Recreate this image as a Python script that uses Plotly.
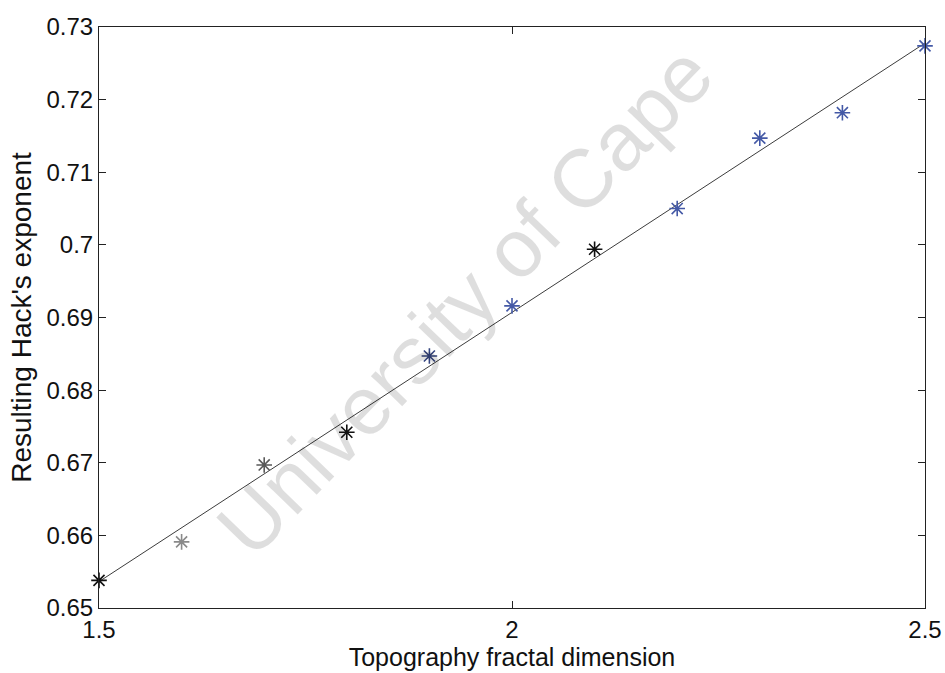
import numpy as np
import plotly.graph_objects as go

# Topography fractal dimension vs resulting Hack's exponent
fractal_dim = [1.5, 1.6, 1.7, 1.8, 1.9, 2.0, 2.1, 2.2, 2.3, 2.4, 2.5]
hack_exponent = [0.6538, 0.6591, 0.6697, 0.6742, 0.6847, 0.6916,
                 0.6994, 0.7050, 0.7147, 0.7182, 0.7274]

x_ticks = [1.5, 2.0, 2.5]
x_tick_labels = ["1.5", "2", "2.5"]
y_ticks = [0.65, 0.66, 0.67, 0.68, 0.69, 0.70, 0.71, 0.72, 0.73]
y_tick_labels = ["0.65", "0.66", "0.67", "0.68", "0.69", "0.7", "0.71", "0.72", "0.73"]

# marker colour for each run
marker_colors = ["#111111", "#8a8a8a", "#5a5a5a", "#111111", "#34447e", "#4459a6",
                 "#111111", "#4459a6", "#4459a6", "#4459a6", "#4459a6"]

# least-squares linear fit through the runs
slope, intercept = np.polyfit(fractal_dim, hack_exponent, 1)
fit_x = [fractal_dim[0], fractal_dim[-1]]
fit_y = [intercept + slope * v for v in fit_x]

FONT = "Liberation Sans, Arial, sans-serif"

fig = go.Figure()
fig.add_trace(go.Scatter(
    x=fit_x, y=fit_y, mode="lines",
    line=dict(color="#3c3c3c", width=1),
    hoverinfo="skip", showlegend=False,
))
fig.add_trace(go.Scatter(
    x=fractal_dim, y=hack_exponent, mode="markers", cliponaxis=False,
    marker=dict(symbol="asterisk-open", size=13, color=marker_colors,
                line=dict(width=1.6)),
    showlegend=False,
))

axis_common = dict(
    showline=True, linecolor="#222222", linewidth=1, mirror="ticks",
    ticks="inside", ticklen=7, tickwidth=1, tickcolor="#222222",
    showgrid=False, zeroline=False, automargin=False,
    tickfont=dict(family=FONT, size=24, color="#111111"),
)

fig.update_layout(
    width=945, height=673,
    margin=dict(l=99, r=20, t=27, b=65),
    paper_bgcolor="white", plot_bgcolor="white",
    xaxis=dict(
        range=[1.5, 2.5], tickvals=x_ticks, ticktext=x_tick_labels,
        title=dict(text="Topography fractal dimension", standoff=2,
                   font=dict(family=FONT, size=25, color="#111111")),
        **axis_common,
    ),
    yaxis=dict(
        range=[0.65, 0.73], tickvals=y_ticks, ticktext=y_tick_labels,
        title=dict(text="Resulting Hack's exponent", standoff=6,
                   font=dict(family=FONT, size=28, color="#111111")),
        **axis_common,
    ),
    # faint translucent watermark so the data stays visible through it
    annotations=[dict(
        text="University of Cape", xref="paper", yref="paper",
        x=0.118, y=0.055, xanchor="left", yanchor="bottom",
        textangle=-46, showarrow=False,
        font=dict(family=FONT, size=82, color="rgba(0,0,0,0.13)"),
    )],
)

fig.write_html("out.html")
